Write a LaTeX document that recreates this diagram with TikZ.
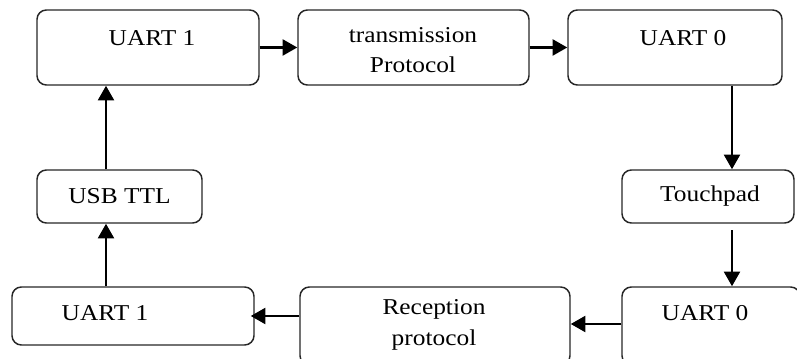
\documentclass[tikz,border=0pt]{standalone}
\usepackage{fontspec}
\setmainfont{Liberation Serif}[FakeStretch=1.12]
\usetikzlibrary{arrows.meta}

\tikzset{
  box/.style={draw=black!85, line width=1.1pt, rounded corners=7pt, inner sep=0pt},
  arr/.style={line width=1.8pt, -{Triangle[length=11pt, width=12pt]}},
  txt/.style={font=\fontsize{17}{23}\selectfont, align=center, inner sep=0pt}
}

\begin{document}
\begin{tikzpicture}[x=0.75pt, y=-0.75pt]
\useasboundingbox (0,0) rectangle (797,359);

% boxes
\node[box, minimum width=166.5pt, minimum height=56.25pt] (u1top) at (148,47.5) {};
\node[box, minimum width=173.25pt, minimum height=56.25pt] (trans) at (413.5,47.5) {};
\node[box, minimum width=160.5pt, minimum height=56.25pt] (u0top) at (675,47.5) {};
\node[box, minimum width=129pt, minimum height=39.75pt] (touch) at (708,196.5) {};
\node[box, minimum width=133.5pt, minimum height=58.5pt] (u0bot) at (711,326) {};
\node[box, minimum width=202.5pt, minimum height=58.5pt] (recep) at (435,326) {};
\node[box, minimum width=181.5pt, minimum height=43.5pt] (u1bot) at (133,316) {};
\node[box, minimum width=123.75pt, minimum height=39.75pt] (usb) at (119.5,196.5) {};

% texts
\node[txt] (t1) at (152,38) {UART 1};
\node[txt] (t2) at (413,50) {transmission\\Protocol};
\node[txt] (t3) at (683,38) {UART 0};
\node[txt] (t4) at (710,196) {Touchpad};
\node[txt] (t5) at (705,313) {UART 0};
\node[txt] (t6) at (434,325) {Reception\\protocol};
\node[txt] (t7) at (105,313) {UART 1};
\node[txt] (t8) at (119.5,196) {USB TTL};

\coordinate (cr) at (732,0);
\coordinate (cl) at (106,0);

% arrows
\draw[arr] (u1top.east) -- (trans.west);
\draw[arr] (trans.east) -- (u0top.west);
\draw[arr] (u0top.south -| cr) -- (touch.north -| cr);
\draw[arr] ([yshift=-5pt]touch.south -| cr) -- (u0bot.north -| cr);
\draw[arr] (u0bot.west |- 0,324) -- (recep.east |- 0,324);
\draw[arr] (recep.west |- u1bot.east) -- ([xshift=-3pt]u1bot.east);
\draw[arr] (u1bot.north -| cl) -- (usb.south -| cl);
\draw[arr] (usb.north -| cl) -- (u1top.south -| cl);

\end{tikzpicture}
\end{document}
